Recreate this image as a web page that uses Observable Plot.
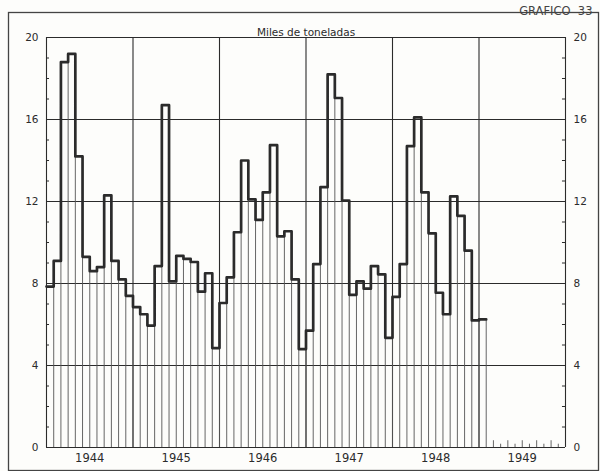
<!DOCTYPE html>
<html>
<head>
<meta charset="utf-8">
<script src="https://cdn.jsdelivr.net/npm/d3@7"></script>
<script src="https://cdn.jsdelivr.net/npm/@observablehq/plot@0.6"></script>
<style>
  html, body { margin: 0; padding: 0; background: #fdfdfb; }
  #chart svg { display: block; }
</style>
</head>
<body>
<div id="chart"></div>
<script>
// Monthly values, Jan 1944 .. Jan 1949 (thousand tons)
const years = ["1944", "1945", "1946", "1947", "1948", "1949"];
const values1944 = [7.85, 9.1, 18.8, 19.2, 14.2, 9.3, 8.6, 8.8, 12.3, 9.1, 8.2, 7.4];
const values1945 = [6.85, 6.5, 5.95, 8.85, 16.7, 8.1, 9.35, 9.2, 9.05, 7.6, 8.5, 4.85];
const values1946 = [7.05, 8.3, 10.5, 14.0, 12.1, 11.1, 12.45, 14.75, 10.3, 10.55, 8.2, 4.8];
const values1947 = [5.7, 8.95, 12.7, 18.2, 17.05, 12.05, 7.45, 8.1, 7.75, 8.85, 8.45, 5.35];
const values1948 = [7.35, 8.95, 14.7, 16.1, 12.45, 10.45, 7.55, 6.5, 12.25, 11.3, 9.6, 6.2];
const values1949 = [6.25];
const yTicks = [0, 4, 8, 12, 16, 20];
const title = "Miles de toneladas";
const chartNumber = "GRAFICO  33";

const values = [...values1944, ...values1945, ...values1946, ...values1947, ...values1948, ...values1949];
const n = values.length;
const monthsTotal = years.length * 12;

const pts = values.map((v, i) => ({x: i, y: v}));
pts.push({x: n, y: values[n - 1]});

const boundaries = d3.range(1, n + 1).map(i => ({
  x: i,
  y: i < n ? Math.max(values[i - 1], values[i]) : values[n - 1]
}));
const yearLines = d3.range(0, monthsTotal + 1, 12);
const minor = d3.range(1, 20);
const emptyMonths = d3.range(n + 1, monthsTotal).map((m, k) => ({x: m, h: k % 2 === 0 ? 0.33 : 0.16}));

const ink = "#2b2b2b";
const thin = "#555";

const chart = Plot.plot({
  width: 600,
  height: 471,
  marginLeft: 46,
  marginRight: 35,
  marginTop: 37,
  marginBottom: 24,
  style: {fontFamily: "DejaVu Sans, sans-serif", background: "#fdfdfb", color: ink},
  x: {domain: [0, monthsTotal], axis: null},
  y: {domain: [0, 20], axis: null},
  marks: [
    // outer border
    Plot.frame({insetTop: -25, insetLeft: -38, insetRight: -33, insetBottom: -23, stroke: "#444", strokeWidth: 1.3}),
    // horizontal grid
    Plot.ruleY(yTicks, {x1: 0, x2: monthsTotal, stroke: ink, strokeWidth: 1.1}),
    // year lines and edges
    Plot.ruleX(yearLines, {y1: 0, y2: 20, stroke: ink, strokeWidth: 1.1}),
    // month lines
    Plot.ruleX(boundaries, {x: "x", y1: 0, y2: "y", stroke: thin, strokeWidth: 0.9}),
    // minor ticks inward on both edges
    Plot.ruleY(minor, {x1: 0, x2: 0.42, stroke: ink, strokeWidth: 1}),
    Plot.ruleY(minor, {x1: monthsTotal - 0.42, x2: monthsTotal, stroke: ink, strokeWidth: 1}),
    // small ticks for months without data
    Plot.ruleX(emptyMonths, {x: "x", y1: 0, y2: "h", stroke: thin, strokeWidth: 0.9}),
    // step outline
    Plot.line(pts, {x: "x", y: "y", curve: "step-after", stroke: ink, strokeWidth: 2.7, strokeLinejoin: "round"}),
    // y axes
    Plot.axisY({ticks: yTicks, anchor: "left", tickSize: 0, tickPadding: 8, fontSize: 10.5, label: null}),
    Plot.axisY({ticks: yTicks, anchor: "right", tickSize: 0, tickPadding: 8, fontSize: 10.5, label: null}),
    // year labels
    Plot.text(years, {x: (d, i) => i * 12 + 6, y: 0, dy: 11, text: d => d, fontSize: 11.5, fill: ink}),
    // title
    Plot.text([title], {frameAnchor: "top", dy: -9, text: d => d, fontSize: 10.5, fill: ink}),
    // chart number
    Plot.text([chartNumber], {frameAnchor: "top-right", dx: 27, dy: -31, text: d => d, textAnchor: "end", fontSize: 11.5, fill: "#444", letterSpacing: "2px"})
  ]
});
document.getElementById("chart").appendChild(chart);
</script>
</body>
</html>
